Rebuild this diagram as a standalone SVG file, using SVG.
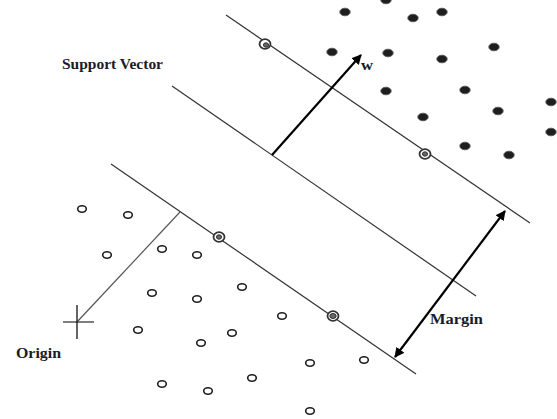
<svg xmlns="http://www.w3.org/2000/svg" width="557" height="419" viewBox="0 0 557 419">
<style>
.hp{stroke:#333;stroke-width:1.2;fill:none}
.arr{stroke:#000;stroke-width:2.2;fill:none}
.pos{fill:#1e1e1e;stroke:#555;stroke-width:0.9}
.neg{fill:#fff;stroke:#1e1e1e;stroke-width:1.6}
.sv{fill:#fff;stroke:#333;stroke-width:1.8}
.svi{fill:#666;stroke:#333;stroke-width:1}
.lbl{font-family:"Liberation Serif","Times New Roman",serif;font-weight:bold;font-size:14px;fill:#1a1a2a}
</style>
<defs>
<marker id="ah" viewBox="0 0 10 10" refX="9" refY="5" markerWidth="4.5" markerHeight="4.5" orient="auto-start-reverse" markerUnits="strokeWidth">
<path d="M0,0 L10,5 L0,10 z" fill="#000"/>
</marker>
</defs>
<rect width="557" height="419" fill="#fff"/>
<g id="connectors">
<line class="hp" x1="226" y1="15" x2="530" y2="223"/>
<line class="hp" x1="172" y1="86" x2="476" y2="296"/>
<line class="hp" x1="111" y1="164" x2="416" y2="374"/>
<line x1="77" y1="322" x2="180" y2="212" stroke="#555" stroke-width="1.2"/>
<line class="arr" x1="272" y1="155" x2="361" y2="55" marker-end="url(#ah)"/>
<line class="arr" x1="395" y1="357" x2="505" y2="211" marker-start="url(#ah)" marker-end="url(#ah)"/>
</g>
<g id="origin">
<line x1="63" y1="322" x2="94" y2="322" stroke="#555" stroke-width="1.5"/>
<line x1="77" y1="305" x2="77" y2="339" stroke="#111" stroke-width="1.3"/>
<text class="lbl" x="16" y="358" textLength="45" lengthAdjust="spacingAndGlyphs">Origin</text>
</g>
<g id="labels">
<text class="lbl" x="62" y="69" textLength="101" lengthAdjust="spacingAndGlyphs">Support Vector</text>
<text class="lbl" x="361" y="70" textLength="12" lengthAdjust="spacingAndGlyphs">w</text>
<text class="lbl" x="430" y="324" textLength="53" lengthAdjust="spacingAndGlyphs">Margin</text>
</g>
<g id="positive">
<ellipse class="pos" cx="386" cy="0" rx="5.2" ry="3.8"/>
<ellipse class="pos" cx="345" cy="12" rx="5.2" ry="3.8"/>
<ellipse class="pos" cx="413" cy="18" rx="5.2" ry="3.8"/>
<ellipse class="pos" cx="442" cy="12" rx="5.2" ry="3.8"/>
<ellipse class="pos" cx="332" cy="52" rx="5.2" ry="3.8"/>
<ellipse class="pos" cx="388" cy="53" rx="5.2" ry="3.8"/>
<ellipse class="pos" cx="442" cy="59" rx="5.2" ry="3.8"/>
<ellipse class="pos" cx="494" cy="47" rx="5.2" ry="3.8"/>
<ellipse class="pos" cx="386" cy="91" rx="5.2" ry="3.8"/>
<ellipse class="pos" cx="465" cy="90" rx="5.2" ry="3.8"/>
<ellipse class="pos" cx="551" cy="102" rx="5.2" ry="3.8"/>
<ellipse class="pos" cx="423" cy="117" rx="5.2" ry="3.8"/>
<ellipse class="pos" cx="498" cy="111" rx="5.2" ry="3.8"/>
<ellipse class="pos" cx="551" cy="132" rx="5.2" ry="3.8"/>
<ellipse class="pos" cx="465" cy="146" rx="5.2" ry="3.8"/>
<ellipse class="pos" cx="509" cy="155" rx="5.2" ry="3.8"/>
</g>
<g id="negative">
<ellipse class="neg" cx="82" cy="209" rx="4.3" ry="3.2"/>
<ellipse class="neg" cx="128" cy="215" rx="4.3" ry="3.2"/>
<ellipse class="neg" cx="107" cy="255" rx="4.3" ry="3.2"/>
<ellipse class="neg" cx="162" cy="249" rx="4.3" ry="3.2"/>
<ellipse class="neg" cx="197" cy="255" rx="4.3" ry="3.2"/>
<ellipse class="neg" cx="242" cy="287" rx="4.3" ry="3.2"/>
<ellipse class="neg" cx="152" cy="293" rx="4.3" ry="3.2"/>
<ellipse class="neg" cx="197" cy="299" rx="4.3" ry="3.2"/>
<ellipse class="neg" cx="282" cy="316" rx="4.3" ry="3.2"/>
<ellipse class="neg" cx="138" cy="330" rx="4.3" ry="3.2"/>
<ellipse class="neg" cx="201" cy="343" rx="4.3" ry="3.2"/>
<ellipse class="neg" cx="232" cy="333" rx="4.3" ry="3.2"/>
<ellipse class="neg" cx="162" cy="384" rx="4.3" ry="3.2"/>
<ellipse class="neg" cx="208" cy="391" rx="4.3" ry="3.2"/>
<ellipse class="neg" cx="252" cy="378" rx="4.3" ry="3.2"/>
<ellipse class="neg" cx="310" cy="363" rx="4.3" ry="3.2"/>
<ellipse class="neg" cx="364" cy="360" rx="4.3" ry="3.2"/>
<ellipse class="neg" cx="310" cy="411" rx="4.3" ry="3.2"/>
</g>
<g id="support-vectors">
<ellipse class="sv" cx="265" cy="44" rx="5.5" ry="4.8"/>
<ellipse class="svi" cx="266" cy="45" rx="2.6" ry="2.2"/>
<ellipse class="sv" cx="425" cy="154" rx="5.5" ry="4.8"/>
<ellipse class="svi" cx="425" cy="154" rx="2.6" ry="2.2"/>
<ellipse class="sv" cx="219" cy="237" rx="5.5" ry="4.8"/>
<ellipse class="svi" cx="219" cy="237" rx="2.6" ry="2.2"/>
<ellipse class="sv" cx="333" cy="316" rx="5.5" ry="4.8"/>
<ellipse class="svi" cx="333" cy="316" rx="3.2" ry="2.5"/>
</g>
</svg>
